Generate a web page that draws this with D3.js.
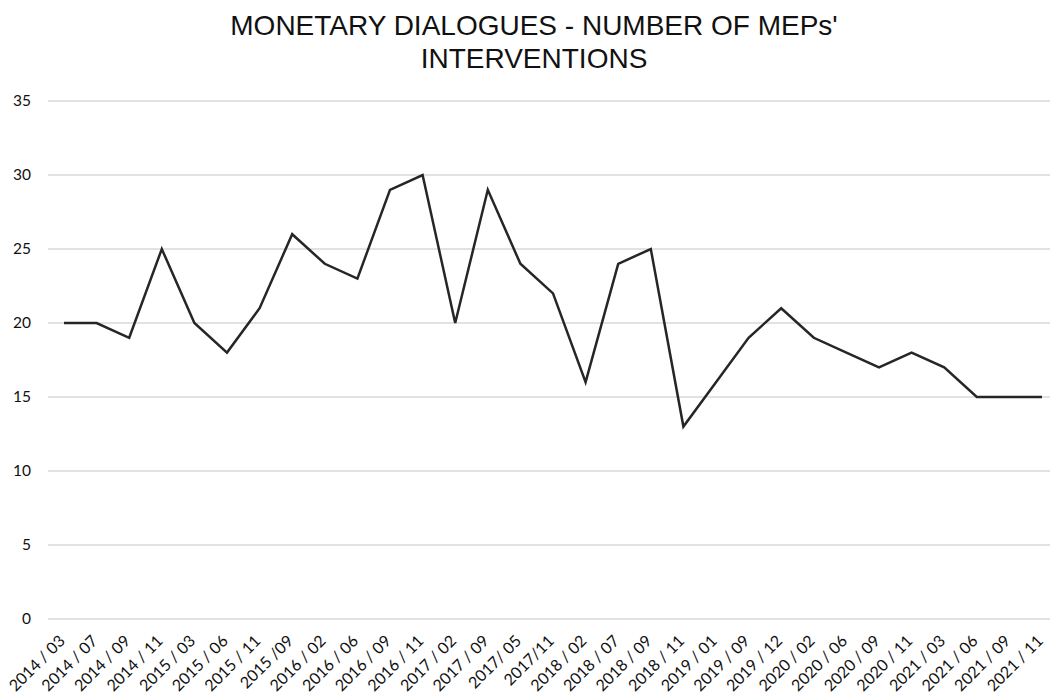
<!DOCTYPE html>
<html><head><meta charset="utf-8">
<script src="https://cdn.jsdelivr.net/npm/d3@7"></script>
<style>body{margin:0;background:#fff}svg{display:block}</style>
</head><body>
<svg id="c" width="1051" height="698"></svg>
<script>
const categories = ["2014 / 03","2014 / 07","2014 / 09","2014 / 11","2015 / 03","2015 / 06","2015 / 11","2015 /09","2016 / 02","2016 / 06","2016 / 09","2016 / 11","2017 / 02","2017 / 09","2017/ 05","2017/11","2018 / 02","2018 / 07","2018 / 09","2018 / 11","2019 / 01","2019 / 09","2019 / 12","2020 / 02","2020 / 06","2020 / 09","2020 / 11","2021 / 03","2021 / 06","2021 / 09","2021 / 11"];
const values = [20,20,19,25,20,18,21,26,24,23,29,30,20,29,24,22,16,24,25,13,16,19,21,19,18,17,18,17,15,15,15];
const yTicks = [0,5,10,15,20,25,30,35];
const titleLines = ["MONETARY DIALOGUES - NUMBER OF MEPs'","INTERVENTIONS"];

const svg = d3.select("#c");
const x = d3.scalePoint().domain(categories).range([64, 1042]);
const y = d3.scaleLinear().domain([0, 35]).range([619, 101]);

svg.append("g").selectAll("line").data(yTicks).join("line")
  .attr("x1", 48).attr("x2", 1050)
  .attr("y1", d => y(d)).attr("y2", d => y(d))
  .attr("stroke", "#d9d9d9").attr("stroke-width", 1.5);

svg.append("g").selectAll("text").data(yTicks).join("text")
  .attr("x", 31).attr("y", d => y(d)).attr("dy", "0.35em")
  .attr("text-anchor", "end")
  .attr("font-family", "Lato, sans-serif").attr("font-size", 15.5).attr("fill", "#111")
  .text(d => d);

svg.append("g").selectAll("text").data(categories).join("text")
  .attr("transform", d => `translate(${x(d) + 2},${642}) rotate(-45)`)
  .attr("text-anchor", "end")
  .attr("font-family", "Lato, sans-serif").attr("font-size", 16).attr("fill", "#111")
  .text(d => d);

const line = d3.line().x((d, i) => x(categories[i])).y(d => y(d));
svg.append("path").datum(values)
  .attr("d", line).attr("fill", "none")
  .attr("stroke", "#262626").attr("stroke-width", 2.5).attr("stroke-linejoin", "miter");

svg.append("g").selectAll("text").data(titleLines).join("text")
  .attr("x", 534).attr("y", (d, i) => 35 + i * 33)
  .attr("text-anchor", "middle")
  .attr("font-family", "'Liberation Sans', Arial, sans-serif").attr("font-size", 28).attr("fill", "#111")
  .text(d => d);
</script>
</body></html>
